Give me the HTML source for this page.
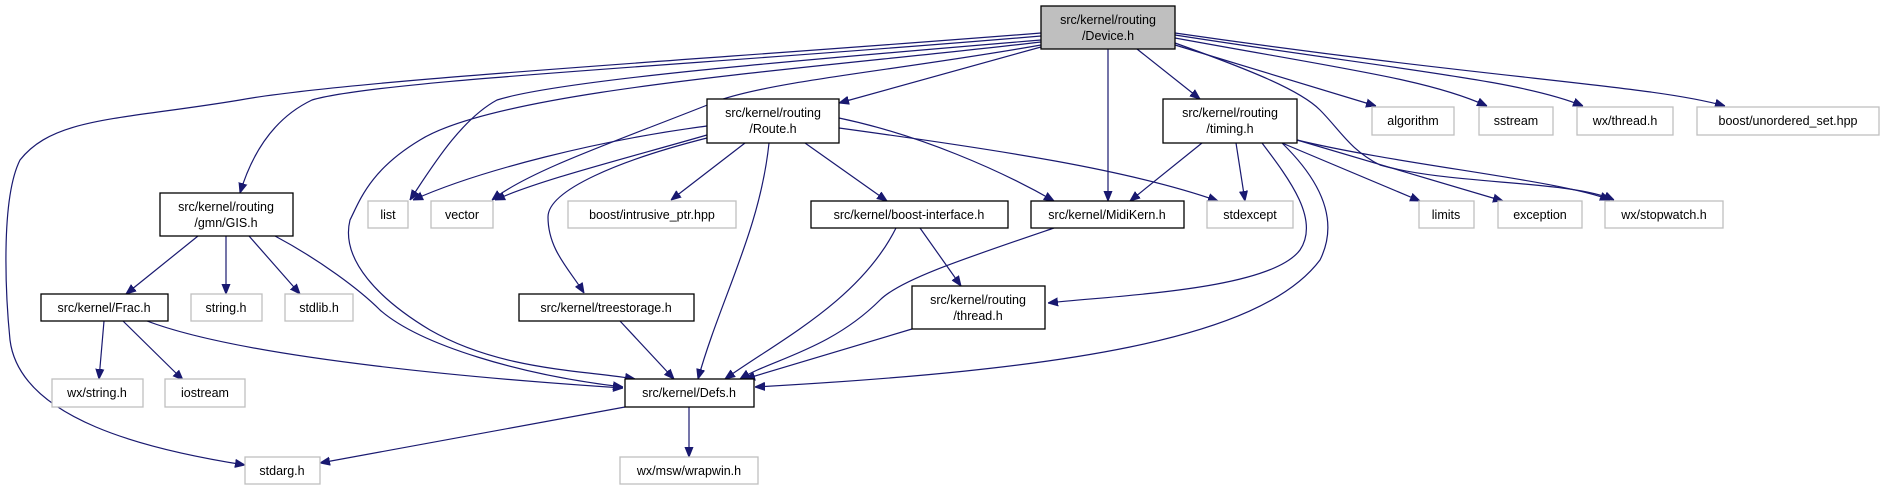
<!DOCTYPE html>
<html><head><meta charset="utf-8"><style>
html,body{margin:0;padding:0;background:#fff;}
svg{display:block;}
text{font-family:"Liberation Sans",sans-serif;font-size:12.5px;fill:#000;text-anchor:middle;}
.n{fill:#fff;stroke:#000;stroke-width:1.3;}
.g{fill:#fff;stroke:#bfbfbf;stroke-width:1.3;}
path.e{fill:none;stroke:#191970;stroke-width:1.2;}
</style></head><body>
<svg width="1884" height="491" viewBox="0 0 1884 491" xmlns="http://www.w3.org/2000/svg">
<defs><marker id="a" viewBox="0 0 10 10" refX="10" refY="5" markerWidth="10" markerHeight="10" markerUnits="userSpaceOnUse" orient="auto"><path d="M0,1 L10,5 L0,9 z" fill="#191970" stroke="#191970"/></marker></defs>
<g marker-end="url(#a)">
<!-- Device edges -->
<path class="e" d="M1041,33 C700,60 350,80 240,100 C120,120 54,117 20,160 C0,200 6,300 10,340 C20,420 150,450 245,465"/>
<path class="e" d="M1041,36 C700,65 380,80 312,100 C270,120 250,160 240,193"/>
<path class="e" d="M1041,40 C800,60 560,80 497,100 C460,120 430,170 410,200"/>
<path class="e" d="M1041,42 C800,70 500,90 420,140 C370,170 360,200 350,220 C340,260 380,300 430,330 C500,370 580,370 635,379"/>
<path class="e" d="M1041,45 C900,70 780,80 720,100 C620,140 530,170 492,200"/>
<path class="e" d="M1041,47 L839,103"/>
<path class="e" d="M1108,49 L1108,201"/>
<path class="e" d="M1137,49 L1200,99"/>
<path class="e" d="M1175,43 C1250,70 1300,90 1320,110 C1340,130 1350,150 1380,165 C1450,185 1570,180 1614,200"/>
<path class="e" d="M1175,45 L1376,106"/>
<path class="e" d="M1175,38 C1350,70 1430,80 1487,106"/>
<path class="e" d="M1175,35 C1400,70 1520,80 1583,106"/>
<path class="e" d="M1175,33 C1500,80 1650,85 1725,106"/>
<!-- Route edges -->
<path class="e" d="M707,126 C600,140 480,170 413,200"/>
<path class="e" d="M707,135 C620,160 540,180 495,200"/>
<path class="e" d="M707,138 C620,160 548,190 548,217 C548,250 570,270 584,293"/>
<path class="e" d="M745,143 L671,200"/>
<path class="e" d="M769,143 C760,230 720,300 698,379"/>
<path class="e" d="M805,143 L887,201"/>
<path class="e" d="M839,118 C920,135 1000,170 1054,201"/>
<path class="e" d="M839,128 C1000,150 1130,170 1218,201"/>
<!-- GIS edges -->
<path class="e" d="M198,236 L126,294"/>
<path class="e" d="M226,236 L226,294"/>
<path class="e" d="M249,236 L300,294"/>
<path class="e" d="M275,236 C320,260 360,290 380,310 C420,345 520,375 623,387"/>
<!-- Frac edges -->
<path class="e" d="M104,321 L99,379"/>
<path class="e" d="M123,321 L183,380"/>
<path class="e" d="M147,321 C250,360 500,380 623,388"/>
<!-- others -->
<path class="e" d="M620,321 L674,379"/>
<path class="e" d="M896,228 C860,300 780,340 725,379"/>
<path class="e" d="M920,228 L961,286"/>
<path class="e" d="M1054,228 C960,260 900,280 880,300 C830,350 770,360 740,379"/>
<path class="e" d="M912,329 L745,379"/>
<!-- timing edges -->
<path class="e" d="M1202,143 L1130,201"/>
<path class="e" d="M1236,143 L1245,201"/>
<path class="e" d="M1262,143 C1290,180 1320,220 1300,250 C1270,290 1120,295 1048,303"/>
<path class="e" d="M1282,143 C1320,180 1340,220 1320,260 C1260,340 1060,370 755,387"/>
<path class="e" d="M1282,143 L1420,201"/>
<path class="e" d="M1297,140 L1503,201"/>
<path class="e" d="M1297,140 C1400,165 1560,180 1610,200"/>
<!-- Defs edges -->
<path class="e" d="M625,407 L320,463"/>
<path class="e" d="M689,407 L689,457"/>
</g>
<!-- nodes -->
<rect x="1041" y="6" width="134" height="43" fill="#bfbfbf" stroke="#000" stroke-width="1.3"/>
<text x="1108" y="24">src/kernel/routing</text><text x="1108" y="40">/Device.h</text>
<rect class="n" x="707" y="99" width="132" height="44"/><text x="773" y="117">src/kernel/routing</text><text x="773" y="133">/Route.h</text>
<rect class="n" x="1163" y="99" width="134" height="44"/><text x="1230" y="117">src/kernel/routing</text><text x="1230" y="133">/timing.h</text>
<rect class="n" x="160" y="193" width="133" height="43"/><text x="226" y="211">src/kernel/routing</text><text x="226" y="227">/gmn/GIS.h</text>
<rect class="n" x="912" y="286" width="133" height="43"/><text x="978" y="304">src/kernel/routing</text><text x="978" y="320">/thread.h</text>
<rect class="g" x="1372" y="107" width="82" height="28"/><text x="1413" y="125">algorithm</text>
<rect class="g" x="1479" y="107" width="74" height="28"/><text x="1516" y="125">sstream</text>
<rect class="g" x="1577" y="107" width="96" height="28"/><text x="1625" y="125">wx/thread.h</text>
<rect class="g" x="1697" y="107" width="182" height="28"/><text x="1788" y="125">boost/unordered_set.hpp</text>
<rect class="g" x="368" y="201" width="40" height="27"/><text x="388" y="219">list</text>
<rect class="g" x="431" y="201" width="62" height="27"/><text x="462" y="219">vector</text>
<rect class="g" x="568" y="201" width="168" height="27"/><text x="652" y="219">boost/intrusive_ptr.hpp</text>
<rect class="n" x="811" y="201" width="197" height="27"/><text x="909" y="219">src/kernel/boost-interface.h</text>
<rect class="n" x="1031" y="201" width="153" height="27"/><text x="1107" y="219">src/kernel/MidiKern.h</text>
<rect class="g" x="1207" y="201" width="86" height="27"/><text x="1250" y="219">stdexcept</text>
<rect class="g" x="1419" y="201" width="55" height="27"/><text x="1446" y="219">limits</text>
<rect class="g" x="1498" y="201" width="84" height="27"/><text x="1540" y="219">exception</text>
<rect class="g" x="1605" y="201" width="118" height="27"/><text x="1664" y="219">wx/stopwatch.h</text>
<rect class="n" x="41" y="294" width="127" height="27"/><text x="104" y="312">src/kernel/Frac.h</text>
<rect class="g" x="191" y="294" width="71" height="27"/><text x="226" y="312">string.h</text>
<rect class="g" x="285" y="294" width="68" height="27"/><text x="319" y="312">stdlib.h</text>
<rect class="n" x="519" y="294" width="175" height="27"/><text x="606" y="312">src/kernel/treestorage.h</text>
<rect class="n" x="625" y="379" width="129" height="28"/><text x="689" y="397">src/kernel/Defs.h</text>
<rect class="g" x="52" y="379" width="91" height="28"/><text x="97" y="397">wx/string.h</text>
<rect class="g" x="165" y="379" width="80" height="28"/><text x="205" y="397">iostream</text>
<rect class="g" x="245" y="457" width="75" height="27"/><text x="282" y="475">stdarg.h</text>
<rect class="g" x="620" y="457" width="138" height="27"/><text x="689" y="475">wx/msw/wrapwin.h</text>
</svg>
</body></html>
